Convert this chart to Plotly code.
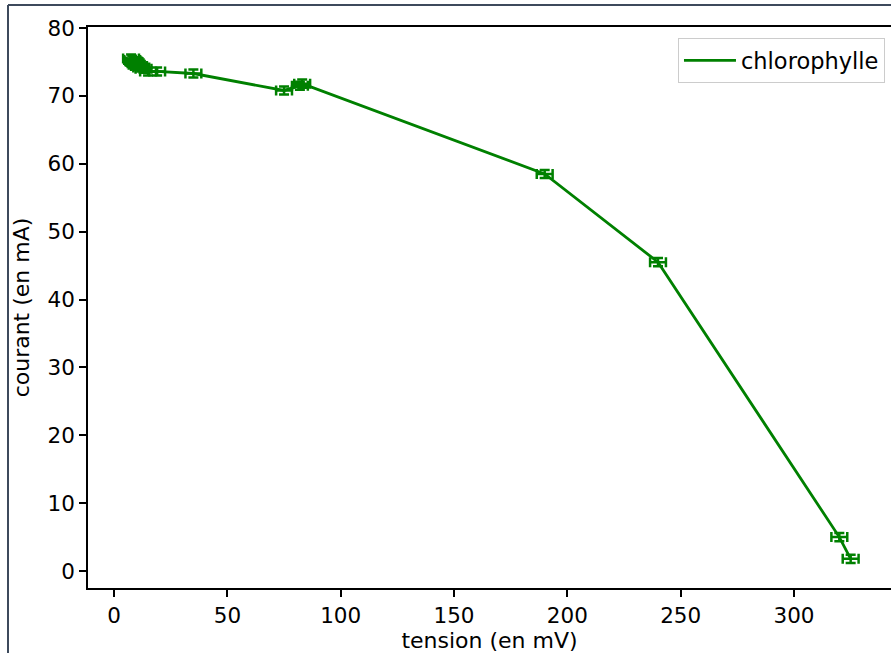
import plotly.graph_objects as go

tension = [7.5, 8, 8.5, 9, 9.5, 10, 11, 12, 13, 15, 19, 35, 75, 82, 83, 190, 240, 320, 325]
courant = [75.5, 75.3, 75.1, 75.0, 74.8, 74.6, 74.4, 74.2, 74.0, 73.6, 73.6, 73.3, 70.8, 71.5, 71.8, 58.5, 45.5, 5.0, 1.8]
err_tension = [3.5] * len(tension)
err_courant = [0.6] * len(courant)
x_ticks = [0, 50, 100, 150, 200, 250, 300]
y_ticks = [0, 10, 20, 30, 40, 50, 60, 70, 80]

green = "#008000"
font = "DejaVu Sans"

fig = go.Figure()
fig.add_trace(go.Scatter(
    x=tension, y=courant, mode="lines", name="chlorophylle",
    line=dict(color=green, width=2.8),
    error_x=dict(type="data", array=err_tension, color=green, thickness=2.5, width=5),
    error_y=dict(type="data", array=err_courant, color=green, thickness=2.5, width=5),
))

fig.update_layout(
    width=891, height=653,
    margin=dict(l=88, r=0, t=27, b=65, autoexpand=False),
    paper_bgcolor="white", plot_bgcolor="white",
    font=dict(family=font, size=22, color="black"),
    showlegend=True,
    legend=dict(x=0.9925, y=0.980, xanchor="right", yanchor="top",
                bgcolor="white", bordercolor="#cccccc", borderwidth=1,
                itemwidth=52, font=dict(size=22.5)),
    xaxis=dict(range=[-11.5, 342.8], tickvals=x_ticks, showgrid=False, zeroline=False,
               showline=True, linecolor="black", linewidth=1.5, mirror=True,
               ticks="outside", ticklen=7, tickwidth=1.5, tickcolor="black",
               tickfont=dict(size=21.5),
               title=dict(text="tension (en mV)", standoff=5, font=dict(size=22))),
    yaxis=dict(range=[-2.5, 80.15], tickvals=y_ticks, showgrid=False, zeroline=False,
               showline=True, linecolor="black", linewidth=1.5, mirror=False,
               ticks="outside", ticklen=7, tickwidth=1.5, tickcolor="black",
               tickfont=dict(size=21.5),
               title=dict(text="courant (en mA)", standoff=12, font=dict(size=22))),
    shapes=[
        dict(type="line", xref="paper", yref="paper", x0=(8-88)/803, x1=1.01,
             y0=(588-5)/561, y1=(588-5)/561, line=dict(color="#3d4a5c", width=2)),
        dict(type="line", xref="paper", yref="paper", x0=(8-88)/803, x1=(8-88)/803,
             y0=(588-5)/561, y1=(588-660)/561, line=dict(color="#3d4a5c", width=2)),
    ],
)

fig.write_html("out.html", config={"displayModeBar": False},
               post_script="document.body.style.margin='0';")
